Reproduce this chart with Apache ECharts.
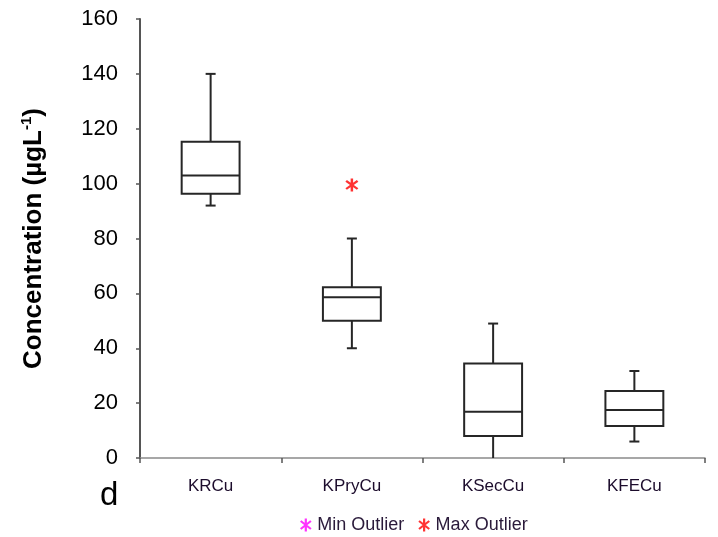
<!DOCTYPE html>
<html><head><meta charset="utf-8">
<script src="https://cdn.jsdelivr.net/npm/echarts@6/dist/echarts.min.js"></script>
<style>html,body{margin:0;padding:0;background:#fff}#c{width:718px;height:537px}</style>
</head><body><div id="c"></div>
<script>
var categories = ['KRCu', 'KPryCu', 'KSecCu', 'KFECu'];
// [whisker low, Q1, median, Q3, whisker high]
var lowValues    = [92, 40, 0, 6];
var q1Values     = [96.3, 50, 8, 11.7];
var medianValues = [103, 58.6, 16.9, 17.5];
var q3Values     = [115.3, 62.2, 34.4, 24.4];
var highValues   = [140, 80, 49, 31.7];
var maxOutliers  = [[1, 99.5]];
var minOutliers  = [];
var yTicks = [0, 20, 40, 60, 80, 100, 120, 140, 160];

// asterisk symbol built from three thin bars
function asterisk() {
  var p = '';
  [0, 52, 128].forEach(function (a) {
    var t = a * Math.PI / 180, c = Math.cos(t), s = Math.sin(t), L = 5, W = 0.85;
    var pts = [[-W, -L], [W, -L], [W, L], [-W, L]].map(function (q) {
      return [(q[0] * c - q[1] * s).toFixed(3), (q[0] * s + q[1] * c).toFixed(3)];
    });
    p += 'M' + pts[0].join(',') + 'L' + pts[1].join(',') + 'L' + pts[2].join(',') + 'L' + pts[3].join(',') + 'Z';
  });
  return 'path://' + p;
}
var star = asterisk();

var boxData = categories.map(function (c, i) {
  return [i, lowValues[i], q1Values[i], medianValues[i], q3Values[i], highValues[i]];
});

var FONT = 'Liberation Sans, Arial, sans-serif';
var chart = echarts.init(document.getElementById('c'));
var lineStyle = { stroke: '#262626', lineWidth: 2, fill: null };
chart.setOption({
  animation: false,
  grid: { left: 140, right: 13, top: 19, bottom: 79 },
  xAxis: {
    type: 'category', data: categories,
    axisLine: { lineStyle: { color: '#8a8a8a', width: 1.5 } },
    axisTick: { show: true, length: 5, lineStyle: { color: '#555', width: 1.5 } },
    axisLabel: { color: '#1c0c2c', fontFamily: FONT, fontSize: 17, margin: 20 }
  },
  yAxis: {
    type: 'value', min: 0, max: 160, interval: 20,
    splitLine: { show: false },
    axisLine: { show: true, lineStyle: { color: '#555', width: 2 } },
    axisTick: { show: true, length: 4, lineStyle: { color: '#555', width: 1.5 } },
    axisLabel: { color: '#000', fontFamily: FONT, fontSize: 22, margin: 22,
      formatter: function (v) { return yTicks.indexOf(v) >= 0 ? String(v) : ''; } },
    name: '{m|Concentration (µgL}{s|-1}{m|)}',
    nameLocation: 'middle', nameGap: 92,
    nameTextStyle: {
      rich: {
        m: { fontFamily: FONT, fontSize: 26, fontWeight: 'bold', color: '#000' },
        s: { fontFamily: FONT, fontSize: 15, fontWeight: 'bold', color: '#000', verticalAlign: 'top', padding: [0, 0, 14, 0] }
      }
    }
  },
  legend: {
    left: 300, top: 516, padding: 0, itemWidth: 13, itemHeight: 13, itemGap: 14,
    textStyle: { color: '#2a1a3a', fontFamily: FONT, fontSize: 18 },
    data: [
      { name: 'Min Outlier', icon: star },
      { name: 'Max Outlier', icon: star }
    ]
  },
  graphic: [{
    type: 'text', left: 100, top: 479,
    style: { text: 'd', font: '33px "Liberation Sans", Arial', fill: '#000' }
  }],
  series: [
    {
      type: 'custom', name: 'box', data: boxData,
      encode: { x: 0, y: [1, 2, 3, 4, 5] },
      renderItem: function (params, api) {
        var i = api.value(0);
        var band = api.size([1, 0])[0];
        var half = band * 0.205, cap = 5;
        var pLow = api.coord([i, api.value(1)]);
        var pQ1 = api.coord([i, api.value(2)]);
        var pMed = api.coord([i, api.value(3)]);
        var pQ3 = api.coord([i, api.value(4)]);
        var pHigh = api.coord([i, api.value(5)]);
        var x = pQ1[0];
        var ch = [];
        function ln(x1, y1, x2, y2) {
          ch.push({ type: 'line', shape: { x1: x1, y1: y1, x2: x2, y2: y2 }, style: lineStyle });
        }
        ln(x, pHigh[1], x, pQ3[1]);
        ln(x, pQ1[1], x, pLow[1]);
        if (api.value(5) !== api.value(4)) ln(x - cap, pHigh[1], x + cap, pHigh[1]);
        if (api.value(1) > 0) ln(x - cap, pLow[1], x + cap, pLow[1]);
        ch.push({ type: 'rect', shape: { x: x - half, y: pQ3[1], width: half * 2, height: pQ1[1] - pQ3[1] },
          style: { stroke: '#262626', lineWidth: 2, fill: '#fff' } });
        ln(x - half, pMed[1], x + half, pMed[1]);
        return { type: 'group', children: ch };
      }
    },
    {
      type: 'scatter', name: 'Min Outlier', data: minOutliers,
      symbol: star, symbolSize: 13, itemStyle: { color: '#ff00ff' }
    },
    {
      type: 'scatter', name: 'Max Outlier', data: maxOutliers,
      symbol: star, symbolSize: 13, itemStyle: { color: '#ff0000' }
    }
  ]
});
</script>
</body></html>
